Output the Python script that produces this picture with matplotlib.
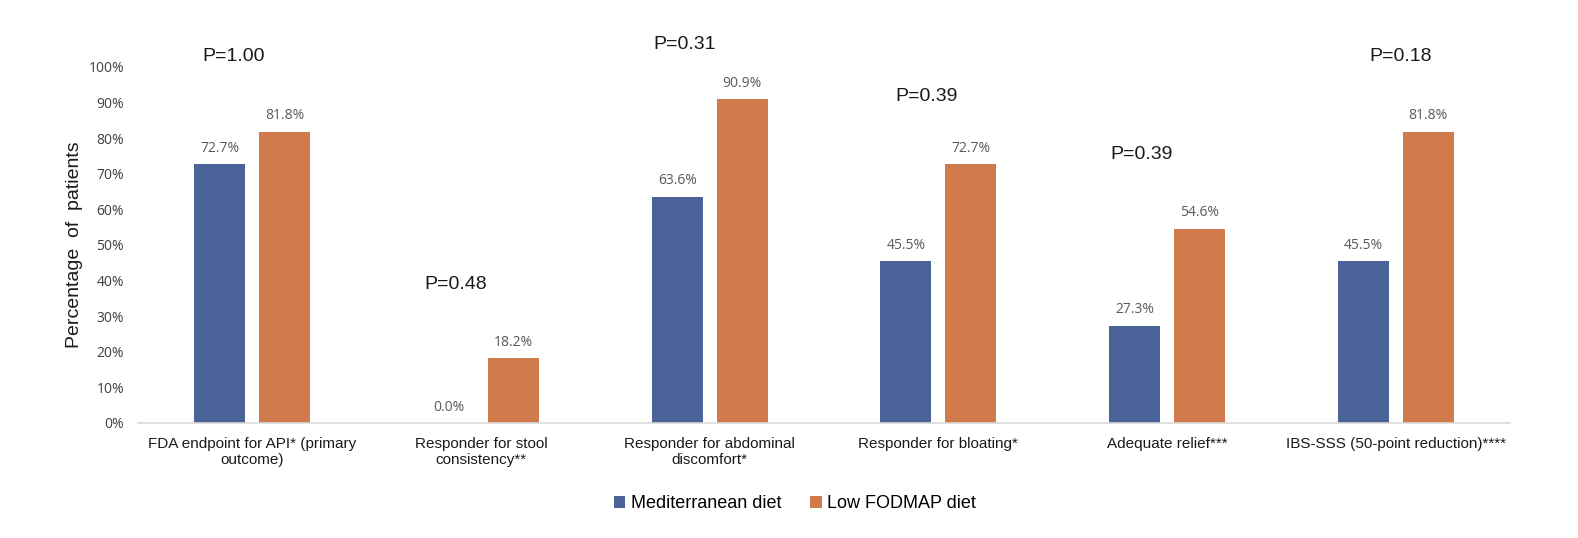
import matplotlib
matplotlib.use("Agg")
import matplotlib.pyplot as plt
import numpy as np

categories = ["FDA endpoint for API* (primary\noutcome)",
              "Responder for stool\nconsistency**",
              "Responder for abdominal\ndiscomfort*",
              "Responder for bloating*",
              "Adequate relief***",
              "IBS-SSS (50-point reduction)****"]
mediterranean = [72.7, 0.0, 63.6, 45.5, 27.3, 45.5]
low_fodmap = [81.8, 18.2, 90.9, 72.7, 54.6, 81.8]
p_values = ["P=1.00", "P=0.48", "P=0.31", "P=0.39", "P=0.39", "P=0.18"]
yticks = list(range(0, 101, 10))

# annotation layout (x in category units, y in axis data units)
p_x = [-0.08, -0.11, -0.11, -0.05, -0.11, 0.02]
p_y = [103.0, 38.8, 106.3, 91.6, 75.3, 103.0]

blue = "#4A6399"
orange = "#D17B4C"

fig = plt.figure(figsize=(15.78, 5.38), dpi=100)
ax = fig.add_axes([138/1578, (538-423)/538, (1510-138)/1578, (423-67)/538])

x = np.arange(len(categories))
w = 0.223
off = 0.142
b1 = ax.bar(x - off, mediterranean, w, color=blue, label="Mediterranean diet")
b2 = ax.bar(x + off, low_fodmap, w, color=orange, label="Low FODMAP diet")

for bars, vals in ((b1, mediterranean), (b2, low_fodmap)):
    for r, v in zip(bars, vals):
        ax.annotate(f"{v:.1f}%", (r.get_x() + r.get_width()/2, v),
                    xytext=(0, 6), textcoords="offset points",
                    ha="center", va="bottom", fontsize=10, color="#595959",
                    family="Open Sans")

for i, p in enumerate(p_values):
    ax.text(i + p_x[i], p_y[i], p, ha="center", va="center", fontsize=14,
            family="Liberation Sans", color="#1a1a1a", clip_on=False)

ax.set_xlim(-0.5, len(categories) - 0.5)
ax.set_ylim(0, 100)
ax.set_yticks(yticks)
ax.set_yticklabels([f"{t}%" for t in yticks], family="Open Sans", fontsize=10, color="#404040")
ax.set_xticks(x)
ax.set_xticklabels(categories, family="Liberation Sans", fontsize=11, color="#1a1a1a",
                   linespacing=1.15)
ax.tick_params(axis="both", length=0)
ax.tick_params(axis="y", pad=10)
ax.tick_params(axis="x", pad=10)
for s in ("top", "right", "left"):
    ax.spines[s].set_visible(False)
ax.spines["bottom"].set_color("#d9d9d9")
ax.spines["bottom"].set_linewidth(1.2)

ax.set_ylabel("Percentage  of  patients", family="Liberation Sans", fontsize=14,
              color="#1a1a1a", labelpad=4)

leg = fig.legend(handles=[b1, b2], loc="center", bbox_to_anchor=(795/1578, 1 - 504/538),
                 ncol=2, frameon=False, prop={"family": "Liberation Sans", "size": 13},
                 handlelength=0.65, handleheight=0.65, columnspacing=1.6, handletextpad=0.3)

fig.savefig("out.png", dpi=100, facecolor="white")
